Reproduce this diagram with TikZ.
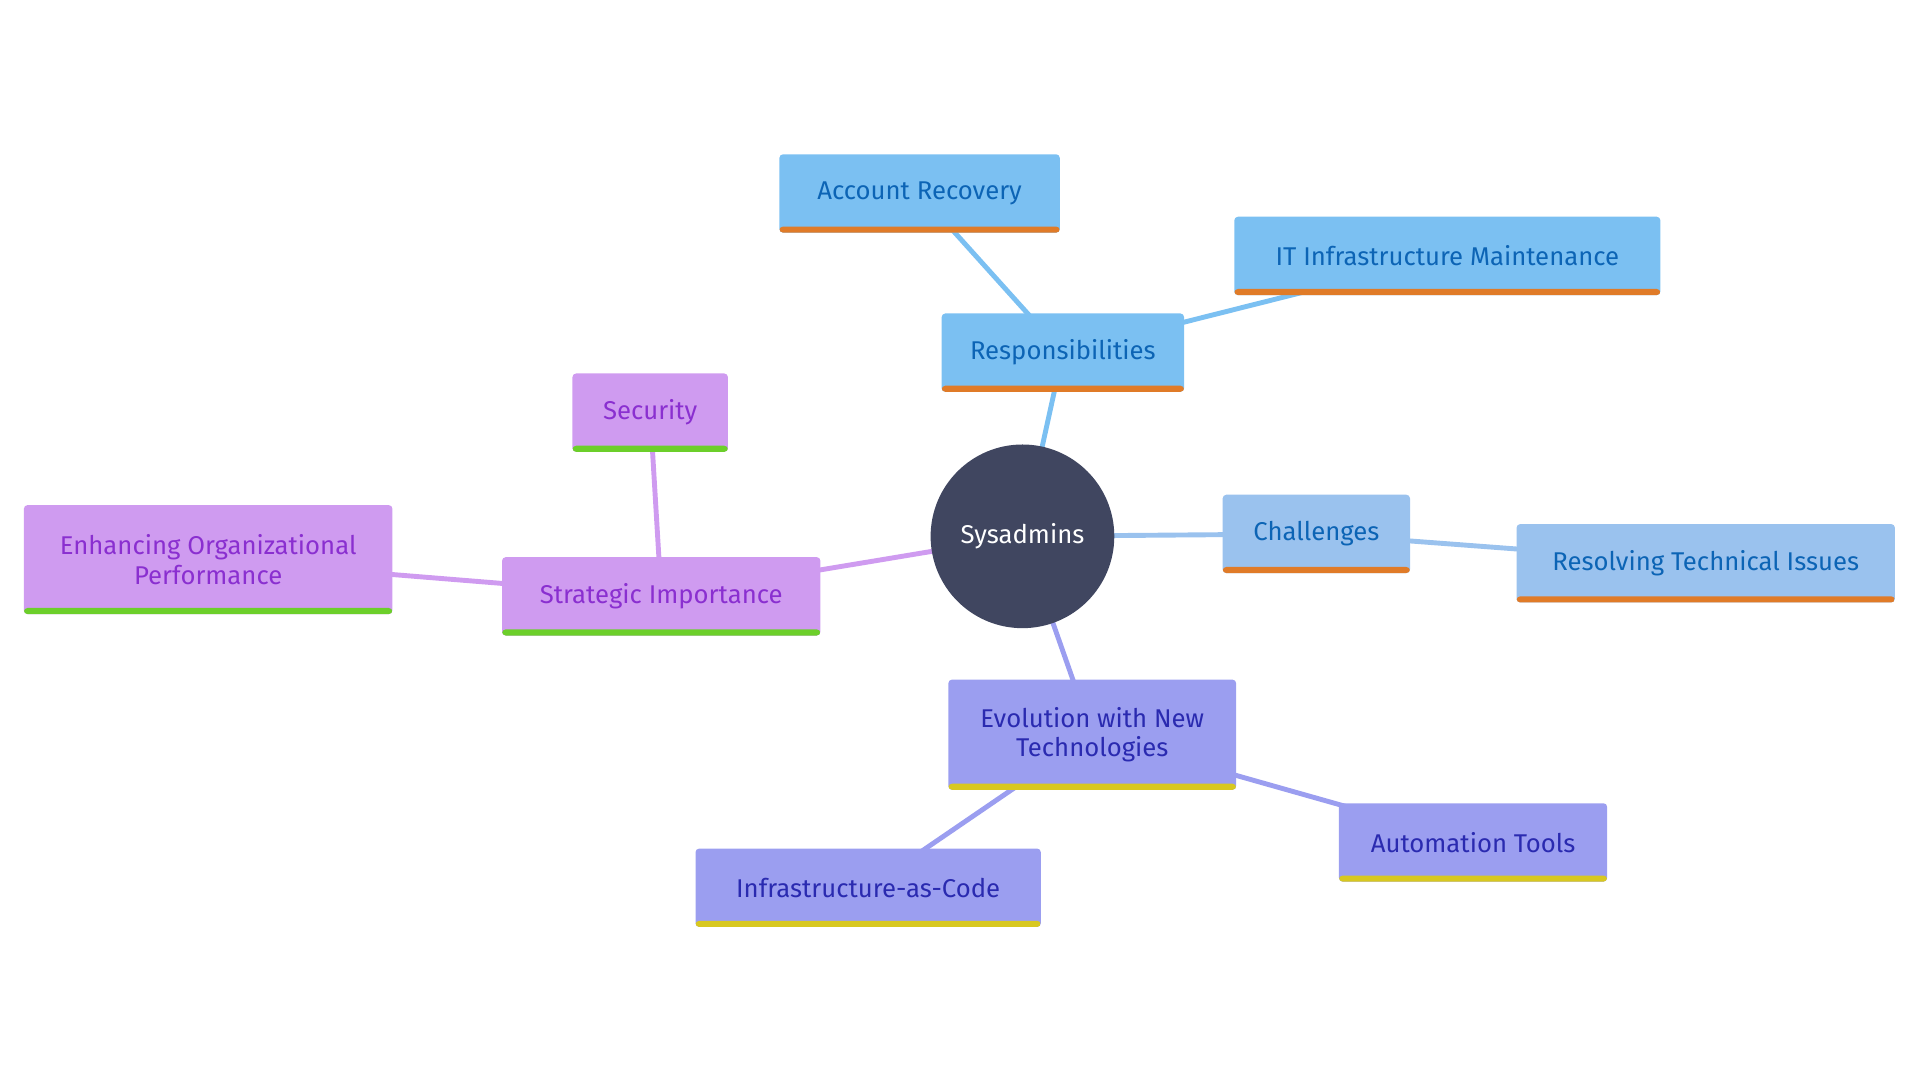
\documentclass[tikz,border=0pt]{standalone}
\usepackage{fontspec}
\setmainfont{Fira Sans}
\usetikzlibrary{backgrounds}
\definecolor{hub}{HTML}{404660}
\definecolor{blueA}{HTML}{7BC0F2}
\definecolor{blueB}{HTML}{9AC2EE}
\definecolor{blueT}{HTML}{0C64B5}
\definecolor{orangeBar}{HTML}{E07B28}
\definecolor{violetA}{HTML}{9B9EF0}
\definecolor{violetT}{HTML}{2A2AB0}
\definecolor{yellowBar}{HTML}{D8C820}
\definecolor{purpleA}{HTML}{CF9BF0}
\definecolor{purpleT}{HTML}{8A2FD0}
\definecolor{greenBar}{HTML}{6CCF2A}
\tikzset{
  topic/.style n args={4}{rectangle, rounded corners=3pt, fill=#1, text=#2,
    minimum width=#4, font=\fontsize{21}{24}\selectfont, align=center, inner sep=0pt,
    path picture={\fill[#3] ([yshift=-0.5pt]path picture bounding box.south west) rectangle ([yshift=5pt]path picture bounding box.south east);}},
  link/.style={line width=4pt, draw=#1}
}
\begin{document}
\begin{tikzpicture}[x=1pt,y=-1pt]
\useasboundingbox (0,0) rectangle (1568,882);
\node[circle, fill=hub, text=white, minimum size=150pt, font=\fontsize{21}{24}\selectfont] (hub) at (835,438) {Sysadmins};
\node[topic={blueA}{blueT}{orangeBar}{198pt}, minimum height=64pt] (resp) at (868,288) {Responsibilities};
\node[topic={blueA}{blueT}{orangeBar}{229pt}, minimum height=64pt] (acct) at (751,158) {Account Recovery};
\node[topic={blueA}{blueT}{orangeBar}{348pt}, minimum height=64pt] (itinf) at (1182,209) {IT Infrastructure Maintenance};
\node[topic={blueB}{blueT}{orangeBar}{153pt}, minimum height=64pt] (chal) at (1075,436) {Challenges};
\node[topic={blueB}{blueT}{orangeBar}{309pt}, minimum height=64pt] (resolv) at (1393,460) {Resolving Technical Issues};
\node[topic={violetA}{violetT}{yellowBar}{235pt}, minimum height=90pt] (evol) at (892,600) {Evolution with New\\Technologies};
\node[topic={violetA}{violetT}{yellowBar}{219pt}, minimum height=64pt] (auto) at (1203,688) {Automation Tools};
\node[topic={violetA}{violetT}{yellowBar}{282pt}, minimum height=64pt] (iac) at (709,725) {Infrastructure-as-Code};
\node[topic={purpleA}{purpleT}{greenBar}{260pt}, minimum height=64pt] (strat) at (540,487) {Strategic Importance};
\node[topic={purpleA}{purpleT}{greenBar}{127pt}, minimum height=64pt] (secur) at (531,337) {Security};
\node[topic={purpleA}{purpleT}{greenBar}{301pt}, minimum height=89pt] (enh) at (170,457) {Enhancing Organizational\\Performance};
\begin{scope}[on background layer]
  \draw[link=blueA] (hub.center) -- (resp.center);
  \draw[link=blueA] (resp.center) -- (acct.center);
  \draw[link=blueA] (resp.center) -- (itinf.center);
  \draw[link=blueB] (hub.center) -- (chal.center);
  \draw[link=blueB] (chal.center) -- (resolv.center);
  \draw[link=violetA] (hub.center) -- (evol.center);
  \draw[link=violetA] (evol.center) -- (auto.center);
  \draw[link=violetA] (evol.center) -- (iac.center);
  \draw[link=purpleA] (hub.center) -- (strat.center);
  \draw[link=purpleA] (strat.center) -- (secur.center);
  \draw[link=purpleA] (strat.center) -- (enh.center);
\end{scope}
\end{tikzpicture}
\end{document}
